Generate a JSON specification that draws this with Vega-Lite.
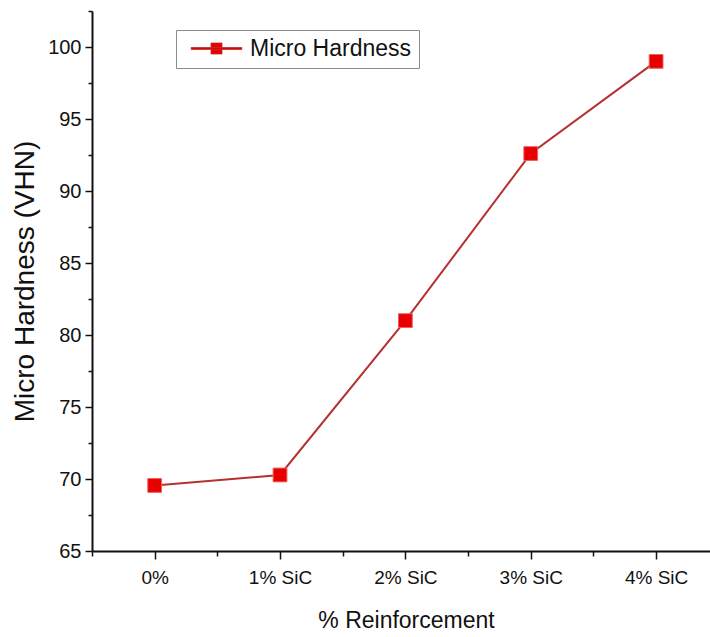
{
  "$schema": "https://vega.github.io/schema/vega-lite/v6.json",
  "autosize": {"type": "none"},
  "padding": {"left": 92, "top": 11, "right": 0, "bottom": 86},
  "width": 618,
  "height": 540,
  "background": "white",
  "config": {
    "view": {"stroke": null},
    "font": "Liberation Sans",
    "axis": {"domainColor": "#111", "tickColor": "#111", "labelColor": "#111", "titleColor": "#111", "grid": false, "domainWidth": 2, "tickWidth": 1.5}
  },
  "data": {
    "values": [
      {"idx": 0, "reinforcement": "0%", "hardness": 69.55, "series": "Micro Hardness"},
      {"idx": 1, "reinforcement": "1% SiC", "hardness": 70.28, "series": "Micro Hardness"},
      {"idx": 2, "reinforcement": "2% SiC", "hardness": 81.0, "series": "Micro Hardness"},
      {"idx": 3, "reinforcement": "3% SiC", "hardness": 92.6, "series": "Micro Hardness"},
      {"idx": 4, "reinforcement": "4% SiC", "hardness": 99.0, "series": "Micro Hardness"}
    ]
  },
  "encoding": {
    "x": {
      "field": "idx",
      "type": "quantitative",
      "scale": {"domain": [-0.5, 4.43], "nice": false, "zero": false},
      "axis": {
        "title": "% Reinforcement",
        "titleFontSize": 23,
        "titleFontWeight": "normal",
        "titlePadding": 22,
        "titleX": 314,
        "values": [-0.5, 0, 0.5, 1, 1.5, 2, 2.5, 3, 3.5, 4],
        "labelExpr": "datum.value == 0 ? '0%' : datum.value == 1 ? '1% SiC' : datum.value == 2 ? '2% SiC' : datum.value == 3 ? '3% SiC' : datum.value == 4 ? '4% SiC' : ''",
        "labelFontSize": 19,
        "labelPadding": 9,
        "labelFlush": false,
        "labelOverlap": false,
        "tickSize": {"condition": {"test": "datum.value % 1 === 0", "value": 8}, "value": 5}
      }
    },
    "y": {
      "field": "hardness",
      "type": "quantitative",
      "scale": {"domain": [65, 102.5], "nice": false, "zero": false},
      "axis": {
        "title": "Micro Hardness (VHN)",
        "titleFontSize": 28,
        "titleFontWeight": "normal",
        "titlePadding": 8,
        "values": [65, 67.5, 70, 72.5, 75, 77.5, 80, 82.5, 85, 87.5, 90, 92.5, 95, 97.5, 100, 102.5],
        "labelExpr": "datum.value % 5 === 0 ? format(datum.value, 'd') : ''",
        "labelFontSize": 20,
        "labelPadding": 4,
        "labelFlush": false,
        "labelOverlap": false,
        "tickSize": {"condition": {"test": "datum.value % 5 === 0", "value": 7}, "value": 4}
      }
    }
  },
  "layer": [
    {
      "mark": {"type": "line", "color": "#b5312f", "strokeWidth": 2},
      "encoding": {}
    },
    {
      "mark": {"type": "point", "shape": "square", "filled": true, "size": 190, "opacity": 1, "stroke": "#f06060", "strokeWidth": 1},
      "encoding": {
        "color": {
          "field": "series",
          "type": "nominal",
          "scale": {"range": ["#e80000"]},
          "legend": {
            "title": null,
            "orient": "none",
            "legendX": 84,
            "legendY": 19,
            "padding": 7,
            "strokeColor": "#8a8a8a",
            "cornerRadius": 0,
            "labelFontSize": 23,
            "labelLimit": 400,
            "labelColor": "#111",
            "labelOffset": 22,
            "symbolOffset": 22,
            "symbolType": "M-2.3,-0.09H2.3V0.09H-2.3Z M-0.5,-0.5H0.5V0.5H-0.5Z",
            "symbolSize": 484,
            "symbolFillColor": "#e80000",
            "symbolStrokeColor": "#b5312f",
            "symbolStrokeWidth": 0.8
          }
        }
      }
    }
  ]
}
